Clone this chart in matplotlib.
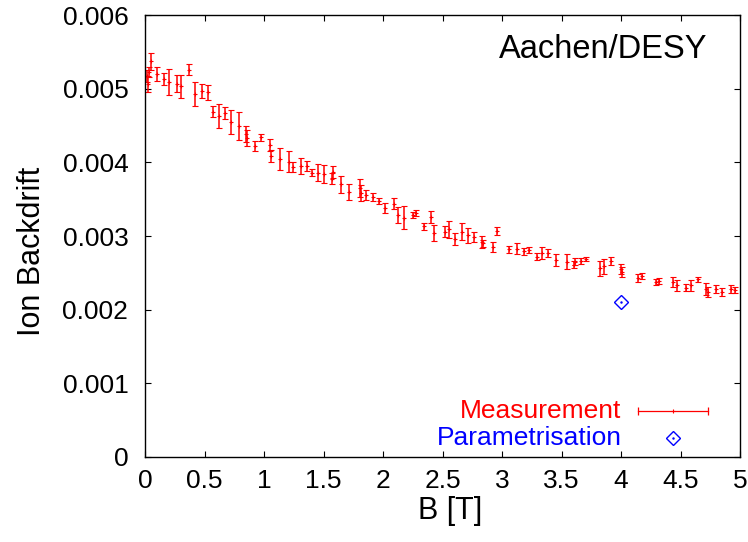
import matplotlib
matplotlib.use("Agg")
import matplotlib.pyplot as plt
from matplotlib.lines import Line2D

plt.rcParams['font.family'] = ['Liberation Sans', 'DejaVu Sans']

# Measurement data: magnetic field B [T], ion backdrift, error
b_field = [0.017, 0.025, 0.034, 0.048, 0.098, 0.160, 0.204, 0.269, 0.300, 0.370,
           0.418, 0.482, 0.527, 0.574, 0.624, 0.672, 0.720, 0.787, 0.846, 0.856,
           0.927, 0.977, 1.048, 1.058, 1.134, 1.213, 1.246, 1.311, 1.359, 1.406,
           1.456, 1.504, 1.569, 1.577, 1.647, 1.712, 1.807, 1.813, 1.857, 1.918,
           1.966, 2.017, 2.095, 2.129, 2.176, 2.255, 2.277, 2.345, 2.401, 2.429,
           2.521, 2.557, 2.605, 2.666, 2.717, 2.765, 2.829, 2.843, 2.922, 2.961,
           3.059, 3.129, 3.185, 3.227, 3.292, 3.339, 3.389, 3.451, 3.549, 3.605,
           3.613, 3.661, 3.706, 3.824, 3.857, 3.916, 4.000, 4.011, 4.145, 4.179,
           4.294, 4.319, 4.439, 4.473, 4.546, 4.586, 4.650, 4.714, 4.729, 4.798,
           4.846, 4.924, 4.958]
backdrift = [0.00517, 0.00506, 0.00523, 0.00537, 0.00520, 0.00513, 0.00509, 0.00507, 0.00503, 0.00526,
             0.00493, 0.00497, 0.00495, 0.00469, 0.00463, 0.00467, 0.00455, 0.00449, 0.00439, 0.00433,
             0.00422, 0.00434, 0.00424, 0.00409, 0.00405, 0.00401, 0.00394, 0.00395, 0.00395, 0.00386,
             0.00386, 0.00384, 0.00378, 0.00387, 0.00370, 0.00360, 0.00365, 0.00358, 0.00356, 0.00353,
             0.00347, 0.00338, 0.00344, 0.00328, 0.00325, 0.00329, 0.00331, 0.00313, 0.00326, 0.00304,
             0.00306, 0.00309, 0.00296, 0.00306, 0.00301, 0.00299, 0.00292, 0.00290, 0.00285, 0.00307,
             0.00282, 0.00283, 0.00279, 0.00281, 0.00272, 0.00277, 0.00277, 0.00267, 0.00265, 0.00261,
             0.00265, 0.00266, 0.00269, 0.00256, 0.00259, 0.00266, 0.00255, 0.00251, 0.00243, 0.00246,
             0.00237, 0.00239, 0.00238, 0.00233, 0.00230, 0.00233, 0.00241, 0.00228, 0.00224, 0.00228,
             0.00224, 0.00228, 0.00227]
errors = [0.00008, 0.00011, 0.00007, 0.00011, 0.00010, 0.00008, 0.00018, 0.00011, 0.00016, 0.00007,
          0.00016, 0.00010, 0.00010, 0.00008, 0.00016, 0.00008, 0.00016, 0.00019, 0.00011, 0.00011,
          0.00007, 0.00005, 0.00008, 0.00008, 0.00015, 0.00014, 0.00007, 0.00011, 0.00007, 0.00005,
          0.00012, 0.00012, 0.00008, 0.00008, 0.00012, 0.00011, 0.00012, 0.00011, 0.00007, 0.00005,
          0.00004, 0.00007, 0.00008, 0.00011, 0.00016, 0.00004, 0.00004, 0.00005, 0.00008, 0.00011,
          0.00008, 0.00012, 0.00008, 0.00012, 0.00010, 0.00007, 0.00008, 0.00005, 0.00007, 0.00005,
          0.00005, 0.00008, 0.00005, 0.00004, 0.00005, 0.00008, 0.00005, 0.00008, 0.00010, 0.00005,
          0.00005, 0.00004, 0.00003, 0.00010, 0.00010, 0.00005, 0.00007, 0.00007, 0.00005, 0.00004,
          0.00004, 0.00004, 0.00007, 0.00007, 0.00005, 0.00007, 0.00004, 0.00008, 0.00007, 0.00005,
          0.00005, 0.00005, 0.00004]

# Parametrisation
param_b = [4.0]
param_val = [0.00211]

x_ticks = [0, 0.5, 1, 1.5, 2, 2.5, 3, 3.5, 4, 4.5, 5]
x_tick_labels = ["0", "0.5", "1", "1.5", "2", "2.5", "3", "3.5", "4", "4.5", "5"]
y_ticks = [0, 0.001, 0.002, 0.003, 0.004, 0.005, 0.006]
y_tick_labels = ["0", "0.001", "0.002", "0.003", "0.004", "0.005", "0.006"]

fig = plt.figure(figsize=(7.48, 5.42), dpi=100)
ax = fig.add_axes([145/748, 1 - 457/542, 595/748, 442/542])

ax.errorbar(b_field, backdrift, yerr=errors, fmt='+', color='red', ms=3, mew=0.8,
            elinewidth=1.1, capsize=2.3, capthick=1.1)
ax.plot(param_b, param_val, linestyle='none', marker='D', ms=7.5, mfc='none',
        mec='blue', mew=1.0)
ax.plot(param_b, param_val, linestyle='none', marker='.', ms=1.5, color='blue')

ax.set_xlim(0, 5)
ax.set_ylim(0, 0.006)
ax.set_xticks(x_ticks)
ax.set_xticklabels(x_tick_labels)
ax.set_yticks(y_ticks)
ax.set_yticklabels(y_tick_labels)
ax.tick_params(direction='in', length=4.5, width=0.8, top=True, right=True,
               labelsize=19)
ax.tick_params(axis='y', pad=12)
ax.tick_params(axis='x', pad=9)
for s in ax.spines.values():
    s.set_linewidth(1.0)

ax.set_xlabel("B [T]", fontsize=22)
ax.set_ylabel("Ion Backdrift", fontsize=22)
ax.xaxis.set_label_coords(0.513, -0.088)
ax.yaxis.set_label_coords(-0.165, 0.466)

ax.text(0.946, 0.921, "Aachen/DESY", transform=ax.transAxes, ha='right',
        va='center', fontsize=23.5, color='black')

# Legend (gnuplot style)
ly1 = 0.1048
ly2 = 0.0441
ax.text(0.801, ly1, "Measurement", transform=ax.transAxes, ha='right',
        va='center', fontsize=19, color='red')
ax.text(0.801, ly2, "Parametrisation", transform=ax.transAxes, ha='right',
        va='center', fontsize=19, color='blue')
ax.add_line(Line2D([0.8286, 0.946], [ly1, ly1], transform=ax.transAxes,
                   color='red', lw=0.9))
ax.add_line(Line2D([0.8286, 0.946], [ly1, ly1], transform=ax.transAxes,
                   color='red', lw=0, marker='|', ms=6, mew=0.9))
ax.add_line(Line2D([0.887], [ly1], transform=ax.transAxes,
                   color='red', lw=0, marker='+', ms=3, mew=0.8))
ax.add_line(Line2D([0.887], [ly2], transform=ax.transAxes, lw=0,
                   marker='D', ms=7.5, mfc='none', mec='blue', mew=1.0))
ax.add_line(Line2D([0.887], [ly2], transform=ax.transAxes, lw=0,
                   marker='.', ms=1.5, color='blue'))

fig.savefig("out.png", dpi=100)
